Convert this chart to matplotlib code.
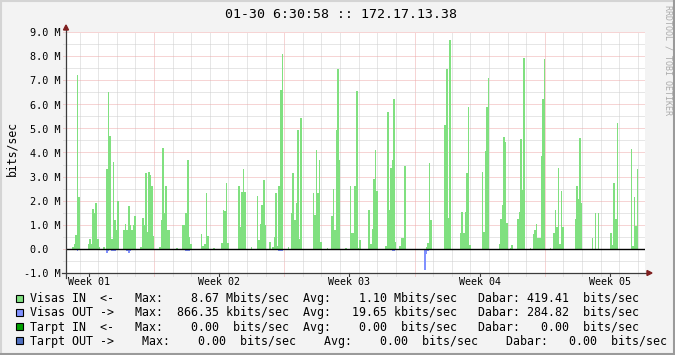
import numpy as np
import matplotlib.pyplot as plt
import matplotlib.transforms as mtransforms
from matplotlib.patches import Rectangle, Polygon
from matplotlib.lines import Line2D

plt.rcParams["font.family"] = ["DejaVu Sans Mono"]

W, H, DPI = 675, 355, 100

title = "01-30 6:30:58 :: 172.17.13.38"
y_label = "bits/sec"
watermark = "RRDTOOL / TOBI OETIKER"

# time axis in days from graph start, 2 hour steps
n_steps = 372
steps_per_day = 12
first_midnight = 0.729
first_monday = 4.729
week_labels = ["Week 01", "Week 02", "Week 03", "Week 04", "Week 05"]

y_ticks = [-1, 0, 1, 2, 3, 4, 5, 6, 7, 8, 9]
y_tick_labels = ["-1.0 M", "0.0  ", "1.0 M", "2.0 M", "3.0 M", "4.0 M",
                 "5.0 M", "6.0 M", "7.0 M", "8.0 M", "9.0 M"]

# Visas IN (Mbit/s), sparse by step index
in_steps = [4, 5, 6, 7, 8, 14, 15, 16, 17, 18, 19, 20, 21, 24, 26, 27, 28, 29, 30, 31,
            32, 33, 37, 38, 39, 40, 41, 42, 43, 44, 48, 49, 50, 51, 52, 53, 54, 55, 56,
            60, 61, 62, 63, 64, 65, 66, 71, 75, 76, 77, 78, 79, 80, 87, 88, 89, 90, 91,
            95, 100, 101, 102, 103, 104, 111, 112, 113, 114, 115, 119, 123, 124, 125,
            126, 127, 128, 131, 133, 134, 135, 136, 137, 138, 139, 143, 145, 146, 147,
            148, 149, 150, 151, 159, 160, 161, 162, 163, 164, 168, 171, 172, 173, 174,
            175, 176, 180, 183, 184, 185, 186, 187, 188, 189, 195, 196, 197, 198, 199,
            200, 206, 207, 208, 209, 210, 211, 212, 215, 216, 217, 218, 232, 233, 234,
            235, 244, 245, 246, 247, 254, 255, 256, 257, 258, 259, 260, 268, 269, 270,
            271, 272, 279, 280, 281, 282, 283, 284, 286, 287, 291, 292, 293, 294, 295,
            299, 301, 302, 303, 304, 305, 306, 307, 308, 312, 314, 315, 316, 317, 318,
            319, 320, 328, 329, 330, 331, 332, 339, 341, 343, 351, 352, 353, 354, 355,
            364, 365, 366, 367, 368]
in_mbps = [0.07, 0.22, 0.57, 7.2, 2.17, 0.22, 0.43, 0.22, 1.67, 1.5, 1.9, 0.43, 0.07, 0.07,
           3.33, 6.5, 4.7, 0.43, 3.6, 1.2, 0.8, 2.0, 0.77, 1.05, 0.77, 1.8, 1.0, 0.77, 1.0,
           1.35, 0.07, 1.3, 1.0, 3.17, 0.7, 3.2, 3.05, 2.63, 0.55, 0.07, 1.2, 4.2, 1.5,
           2.63, 0.8, 0.8, 0.05, 1.0, 1.0, 1.5, 3.67, 0.5, 0.2, 0.6, 0.1, 0.22, 2.34, 0.55,
           0.05, 0.26, 1.63, 1.56, 2.75, 0.25, 2.63, 0.89, 2.38, 3.33, 2.38, 0.07, 2.21,
           0.35, 1.05, 1.84, 2.84, 1.0, 0.3, 0.07, 0.5, 2.3, 0.13, 2.6, 6.6, 8.1, 0.07,
           1.5, 3.17, 1.2, 1.92, 4.95, 0.43, 5.45, 2.3, 1.42, 4.12, 2.34, 3.67, 0.3, 0.05,
           1.35, 2.5, 0.8, 4.95, 7.45, 3.67, 0.05, 2.6, 0.64, 0.64, 2.63, 6.57, 0.05, 0.39,
           1.6, 0.22, 0.84, 2.92, 4.12, 2.42, 0.1, 5.66, 1.63, 3.37, 3.7, 6.2, 0.3, 0.13,
           0.47, 0.47, 3.46, 0.07, 0.26, 3.58, 1.18, 5.16, 7.48, 1.3, 8.67, 0.64, 1.55,
           0.68, 1.55, 3.17, 5.9, 0.18, 3.2, 0.72, 4.08, 5.9, 7.1, 0.22, 1.26, 1.84, 4.66,
           4.45, 1.09, 0.05, 0.18, 1.26, 1.55, 4.58, 2.46, 7.94, 0.05, 0.6, 0.8, 1.05,
           0.47, 0.47, 3.87, 6.2, 7.9, 0.05, 0.68, 1.6, 0.89, 3.37, 0.22, 2.42, 0.89, 1.26,
           2.63, 2.09, 4.62, 1.92, 0.47, 1.47, 1.47, 0.64, 0.18, 2.75, 1.26, 5.24, 4.16,
           0.1, 2.17, 0.97, 3.33]

# Visas OUT (kbit/s), drawn below zero
out_steps = [7, 17, 18, 19, 20, 21, 26, 27, 29, 30, 31, 39, 40, 41, 52, 53, 54, 62, 64, 67,
             77, 78, 79, 91, 102, 112, 113, 124, 127, 137, 138, 139, 147, 151, 152, 160,
             163, 175, 176, 185, 186, 199, 200, 210, 211, 231, 232, 233, 244, 247, 257,
             258, 259, 270, 271, 272, 282, 293, 294, 295, 307, 308, 316, 317, 318, 355]
out_kbps = [70, 60, 60, 60, 60, 60, 190, 100, 70, 70, 70, 100, 150, 100, 60, 60, 60, 60,
            60, 60, 90, 90, 90, 50, 40, 60, 60, 50, 50, 100, 100, 100, 50, 60, 60, 50, 50,
            60, 60, 50, 50, 60, 60, 100, 100, 866.35, 200, 70, 50, 40, 30, 50, 50, 50, 50,
            50, 50, 50, 50, 50, 50, 50, 60, 60, 60, 40]

legend_colors = ["#80E080", "#8090FF", "#00A000", "#5070C0"]
legend_rows = [
    "Visas IN  <-   Max:    8.67 Mbits/sec  Avg:    1.10 Mbits/sec   Dabar: 419.41  bits/sec",
    "Visas OUT ->   Max:  866.35 kbits/sec  Avg:   19.65 kbits/sec   Dabar: 284.82  bits/sec",
    "Tarpt IN  <-   Max:    0.00  bits/sec  Avg:    0.00  bits/sec   Dabar:   0.00  bits/sec",
    "Tarpt OUT ->    Max:    0.00  bits/sec    Avg:    0.00  bits/sec    Dabar:   0.00  bits/sec",
]

# layout (pixels)
pl, pr, pt, pb = 66, 645, 32, 273
bg = "#F3F3F3"
grid_minor = "#CFCFCF"
grid_major = "#EFAAAA"
axis_col = "#3C3C3C"
arrow_col = "#7F1F1F"

fig = plt.figure(figsize=(W / DPI, H / DPI), dpi=DPI, facecolor=bg)
ax = fig.add_axes([pl / W, 1 - pb / H, (pr - pl) / W, (pb - pt) / H])
ax.set_facecolor("white")
for s in ax.spines.values():
    s.set_visible(False)

px_per_day = 18.61
x_end = (pr - pl) / px_per_day
ax.set_xlim(0, x_end)
ax.set_ylim(-1, 9)
dy = 10 / (pb - pt)  # data units per pixel
dx = 1 / px_per_day

# data
in_vals = np.zeros(n_steps)
in_vals[in_steps] = in_mbps
out_vals = np.zeros(n_steps)
out_vals[out_steps] = -np.array(out_kbps) / 1000
edges = np.arange(n_steps + 1) / steps_per_day
ax.stairs(in_vals, edges, baseline=0, fill=True, color=legend_colors[0],
          lw=0, zorder=3)
ax.stairs(out_vals, edges, baseline=0, fill=True, color=legend_colors[1],
          lw=0, zorder=3)

# grid
days = np.arange(first_midnight, x_end, 1.0)
weeks = np.arange(first_monday, x_end, 7.0)
for d in days:
    major = np.min(np.abs(weeks - d)) < 0.01
    ax.plot([d, d], [-1 - 3 * dy, 9], color=grid_major if major else grid_minor,
            lw=0.72, ls=(0, (1, 1)), clip_on=False, zorder=1)
for v in np.arange(-0.5, 9, 0.5):
    major = abs(v - round(v)) < 0.01
    ax.plot([-3 * dx, x_end], [v, v], color=grid_major if major else grid_minor,
            lw=0.72, ls=(0, (1, 1)), clip_on=False, zorder=1)
ax.plot([-3 * dx, x_end], [9, 9], color=grid_major, lw=0.72, ls=(0, (1, 1)),
        clip_on=False, zorder=1)
ax.axhline(0, color="black", lw=1.0, zorder=4)

# axes lines with arrows
ax.plot([0, 0], [-1 - 5 * dy, 9 + 4 * dy], color=axis_col, lw=0.9, clip_on=False, zorder=5)
ax.plot([-4 * dx, x_end + 3 * dx], [-1, -1], color=axis_col, lw=0.9, clip_on=False, zorder=5)
ax.add_patch(Polygon([[-2.5 * dx, 9 + 2 * dy], [2.5 * dx, 9 + 2 * dy], [0, 9 + 7 * dy]],
                     closed=True, color=arrow_col, clip_on=False, zorder=6))
ax.add_patch(Polygon([[x_end + 2 * dx, -1 - 2.5 * dy], [x_end + 2 * dx, -1 + 2.5 * dy],
                      [x_end + 7 * dx, -1]], closed=True, color=arrow_col,
                     clip_on=False, zorder=6))

# ticks & labels
ax.set_xticks([])
ax.set_yticks([])
ytr = mtransforms.blended_transform_factory(fig.transFigure, ax.transData)
ytr = ytr + mtransforms.ScaledTranslation(0, -4.3 / DPI, fig.dpi_scale_trans)
for v, lab in zip(y_ticks, y_tick_labels):
    ax.text(60.5 / W, v, lab, transform=ytr, ha="right", va="baseline", fontsize=7.3,
            color="black")
xtr = mtransforms.blended_transform_factory(ax.transData, fig.transFigure)
for i, lab in enumerate(week_labels):
    xc = first_monday - 3.5 + 7 * i
    ax.plot([xc, xc], [-1, -1 - 3 * dy], color=axis_col, lw=0.8, clip_on=False, zorder=5)
    ax.text(xc, 1 - 285 / H, lab, transform=xtr, ha="center", va="baseline",
            fontsize=7.2, color="black")

fig.text(341 / W, 1 - 18.3 / H, title, ha="center", va="baseline", fontsize=9.5)
fig.text(11.5 / W, 1 - 149 / H, y_label, rotation=90, ha="center", va="center",
         fontsize=8.3)
fig.text(668 / W, 1 - 60 / H, watermark, rotation=270, ha="center", va="center",
         fontsize=6, color="#ABABAB")

# legend
for i, (c, row) in enumerate(zip(legend_colors, legend_rows)):
    base = 302 + 14.3 * i
    fig.add_artist(Rectangle((15.5 / W, 1 - (base - 0.5) / H), 7 / W, 7 / H,
                             transform=fig.transFigure, facecolor=c,
                             edgecolor="black", lw=0.8))
    fig.text(30 / W, 1 - base / H, row, ha="left", va="baseline", fontsize=8.37)

# frame shading
fig.add_artist(Line2D([0, 1], [1 - 1 / H, 1 - 1 / H], transform=fig.transFigure,
                      color="#D4D4D4", lw=1.5))
fig.add_artist(Line2D([1 / W, 1 / W], [0, 1], transform=fig.transFigure,
                      color="#D4D4D4", lw=1.5))
fig.add_artist(Line2D([0, 1], [1 / H, 1 / H], transform=fig.transFigure,
                      color="#9A9A9A", lw=1.5))
fig.add_artist(Line2D([1 - 1 / W, 1 - 1 / W], [0, 1], transform=fig.transFigure,
                      color="#9A9A9A", lw=1.5))

fig.savefig("out.png", dpi=DPI, facecolor=bg)
